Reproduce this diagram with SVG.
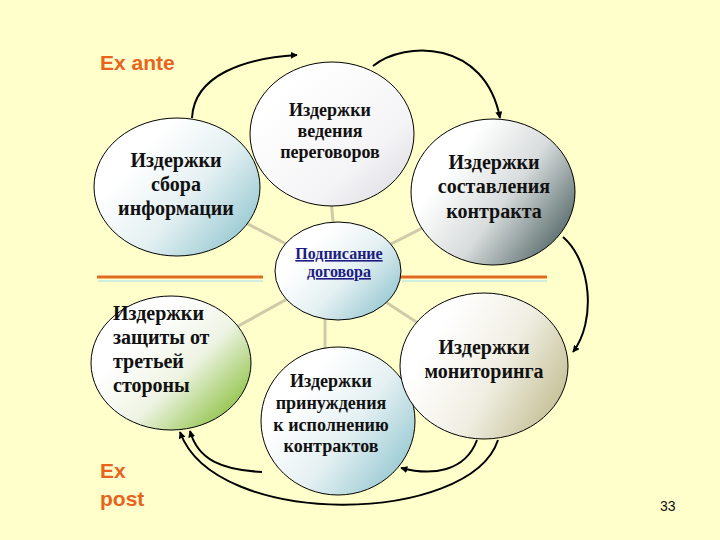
<svg xmlns="http://www.w3.org/2000/svg" width="720" height="540" viewBox="0 0 720 540">
<defs>
<linearGradient id="gTeal" x1="0.25" y1="0.3" x2="1" y2="0.85"><stop offset="0" stop-color="#ffffff"/><stop offset="0.45" stop-color="#e4f0f2"/><stop offset="1" stop-color="#8ec4ce"/></linearGradient>
<linearGradient id="gGray" x1="0.2" y1="0.2" x2="1" y2="1"><stop offset="0" stop-color="#ffffff"/><stop offset="0.6" stop-color="#f4f4f6"/><stop offset="1" stop-color="#d8d8e0"/></linearGradient>
<linearGradient id="gDark" x1="0.25" y1="0.3" x2="1" y2="0.8"><stop offset="0" stop-color="#ffffff"/><stop offset="0.45" stop-color="#d8dcdc"/><stop offset="1" stop-color="#4e6262"/></linearGradient>
<linearGradient id="gGreen" x1="0.3" y1="0.3" x2="0.95" y2="0.85"><stop offset="0" stop-color="#ffffff"/><stop offset="0.45" stop-color="#eef4e4"/><stop offset="1" stop-color="#8cc040"/></linearGradient>
<linearGradient id="gKhaki" x1="0.2" y1="0.3" x2="1" y2="0.7"><stop offset="0" stop-color="#ffffff"/><stop offset="0.5" stop-color="#f0eee2"/><stop offset="1" stop-color="#c4c096"/></linearGradient>
<marker id="ah" viewBox="0 0 10 10" refX="9" refY="5" markerWidth="7" markerHeight="7" orient="auto" markerUnits="userSpaceOnUse"><path d="M0,0 L10,5 L0,10 z" fill="#000"/></marker>
<style>
.node ellipse{stroke:#000;stroke-width:1}
.t{font-family:"Liberation Serif","Times New Roman",serif;font-weight:bold;fill:#111}
.lbl{font-family:"Liberation Sans",Arial,sans-serif;fill:#e8641e;font-weight:bold}
.spoke{stroke:#cfcaa8;stroke-width:3}
.arr{fill:none;stroke:#000;stroke-width:2;marker-end:url(#ah)}
.sep{stroke:#e06a20;stroke-width:3}
.sep2{stroke:#cfeee0;stroke-width:2}
</style>
</defs>
<rect width="720" height="540" fill="#ffffcc"/>
<g id="spokes">
<line class="spoke" x1="338" y1="271" x2="177" y2="187"/>
<line class="spoke" x1="338" y1="271" x2="325" y2="140"/>
<line class="spoke" x1="338" y1="271" x2="493" y2="192"/>
<line class="spoke" x1="338" y1="271" x2="171" y2="363"/>
<line class="spoke" x1="325" y1="271" x2="325" y2="421"/>
<line class="spoke" x1="338" y1="271" x2="484" y2="366"/>
</g>
<g id="separators">
<line class="sep2" x1="98" y1="281" x2="263" y2="281"/>
<line class="sep" x1="97" y1="277" x2="263" y2="277"/>
<line class="sep2" x1="402" y1="281" x2="547" y2="281"/>
<line class="sep" x1="400" y1="277" x2="547" y2="277"/>
</g>
<g id="n1" class="node"><ellipse cx="177" cy="187" rx="83" ry="69" fill="url(#gTeal)"/>
<text class="t" font-size="20" text-anchor="middle"><tspan x="176" y="167">Издержки</tspan><tspan x="176" y="191">сбора</tspan><tspan x="176" y="215">информации</tspan></text></g>
<g id="n2" class="node"><ellipse cx="332" cy="134" rx="82" ry="72" fill="url(#gGray)"/>
<text class="t" font-size="18" text-anchor="middle"><tspan x="330" y="116">Издержки</tspan><tspan x="330" y="137">ведения</tspan><tspan x="330" y="158">переговоров</tspan></text></g>
<g id="n3" class="node"><ellipse cx="493" cy="192" rx="82" ry="73" fill="url(#gDark)"/>
<text class="t" font-size="20" text-anchor="middle"><tspan x="494" y="169">Издержки</tspan><tspan x="494" y="193">составления</tspan><tspan x="494" y="218">контракта</tspan></text></g>
<g id="n4" class="node"><ellipse cx="338" cy="271" rx="63" ry="49" fill="url(#gTeal)"/>
<text font-family="Liberation Serif,Times New Roman,serif" font-weight="bold" font-size="16" fill="#1c1c84" text-decoration="underline" text-anchor="middle"><tspan x="339" y="259">Подписание</tspan><tspan x="339" y="277">договора</tspan></text></g>
<g id="n5" class="node"><ellipse cx="171" cy="363" rx="80" ry="67" fill="url(#gGreen)"/>
<text class="t" font-size="20"><tspan x="113" y="320">Издержки</tspan><tspan x="113" y="344">защиты от</tspan><tspan x="113" y="368">третьей</tspan><tspan x="113" y="392">стороны</tspan></text></g>
<g id="n6" class="node"><ellipse cx="338" cy="421" rx="77" ry="74" fill="url(#gTeal)"/>
<text class="t" font-size="18" text-anchor="middle"><tspan x="331" y="387">Издержки</tspan><tspan x="331" y="409">принуждения</tspan><tspan x="331" y="431">к исполнению</tspan><tspan x="331" y="452">контрактов</tspan></text></g>
<g id="n7" class="node"><ellipse cx="484" cy="366" rx="84" ry="73" fill="url(#gKhaki)"/>
<text class="t" font-size="20" text-anchor="middle"><tspan x="484" y="354">Издержки</tspan><tspan x="484" y="378">мониторинга</tspan></text></g>
<g id="connectors">
<path class="arr" d="M192,118 C194,75 245,58 297,55"/>
<path class="arr" d="M373,66 C405,40 485,40 500,118"/>
<path class="arr" d="M563,237 C592,262 596,322 573,352"/>
<path class="arr" d="M477,440 C465,472 432,476 401,468"/>
<path class="arr" d="M498,440 C470,525 215,530 180,432"/>
<path class="arr" d="M262,472 C222,470 198,460 190,431"/>
</g>
<g id="labels">
<text class="lbl" x="100" y="70" font-size="21">Ex ante</text>
<text class="lbl" font-size="21"><tspan x="100" y="478">Ex</tspan><tspan x="100" y="506">post</tspan></text>
<text x="660" y="511" font-family="Liberation Sans,Arial,sans-serif" font-size="14" fill="#111">33</text>
</g>
</svg>
